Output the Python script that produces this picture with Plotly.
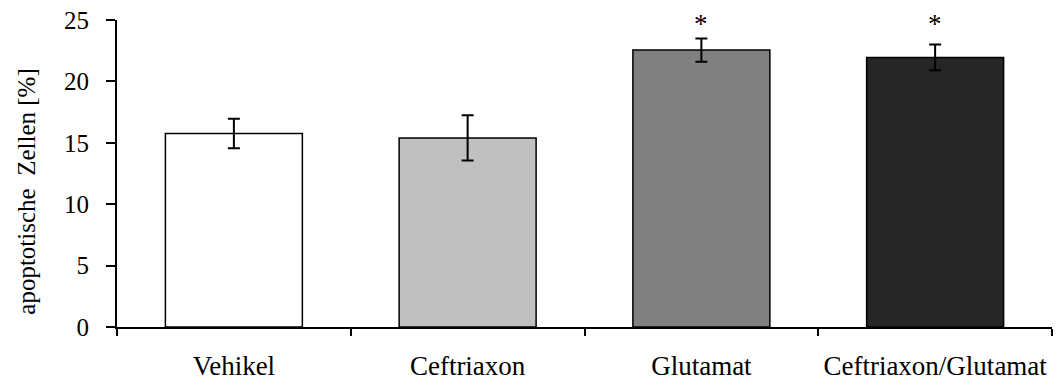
import plotly.graph_objects as go

# Apoptotic cells per treatment group (mean ± error)
groups = ["Vehikel", "Ceftriaxon", "Glutamat", "Ceftriaxon/Glutamat"]
means = [15.75, 15.4, 22.55, 21.95]
errors = [1.2, 1.85, 0.95, 1.05]
bar_colors = ["#ffffff", "#c0c0c0", "#808080", "#262626"]
significant = [False, False, True, True]
y_ticks = [0, 5, 10, 15, 20, 25]

FONT = "Liberation Serif"

fig = go.Figure()
fig.add_trace(go.Bar(
    x=groups,
    y=means,
    marker=dict(color=bar_colors, line=dict(color="black", width=1.5)),
    error_y=dict(type="data", array=errors, color="black", thickness=2, width=6),
    showlegend=False,
))

# Significance markers above the bars
for g, sig in zip(groups, significant):
    if sig:
        fig.add_annotation(x=g, y=23.25, text="*", showarrow=False,
                           yanchor="bottom", font=dict(family=FONT, size=27, color="black"))

# Y-axis title placed manually
fig.add_annotation(xref="paper", yref="paper", x=-0.0965, xanchor="center",
                   y=0.44, yanchor="middle",
                   text="apoptotische  Zellen [%]", textangle=-90, showarrow=False,
                   font=dict(family=FONT, size=25, color="black"))

fig.update_layout(
    width=1056, height=381,
    margin=dict(l=117, r=4, t=20, b=54),
    paper_bgcolor="white", plot_bgcolor="white",
    bargap=0.414,
    font=dict(family=FONT, color="black", size=22),
)
fig.update_xaxes(
    automargin=False, tickangle=0,
    showline=True, linecolor="black", linewidth=2,
    ticks="outside", tickson="boundaries", ticklen=7, tickwidth=2, tickcolor="black",
    ticklabelstandoff=14,
    tickfont=dict(family=FONT, size=27, color="black"),
    showgrid=False, zeroline=False,
)
fig.update_yaxes(
    automargin=False,
    range=[0, 25], tickvals=y_ticks,
    showline=True, linecolor="black", linewidth=2,
    ticks="outside", ticklen=9, tickwidth=2, tickcolor="black",
    ticklabelstandoff=12,
    tickfont=dict(family=FONT, size=25, color="black"),
    showgrid=False, zeroline=False,
)

fig.write_html("out.html")
